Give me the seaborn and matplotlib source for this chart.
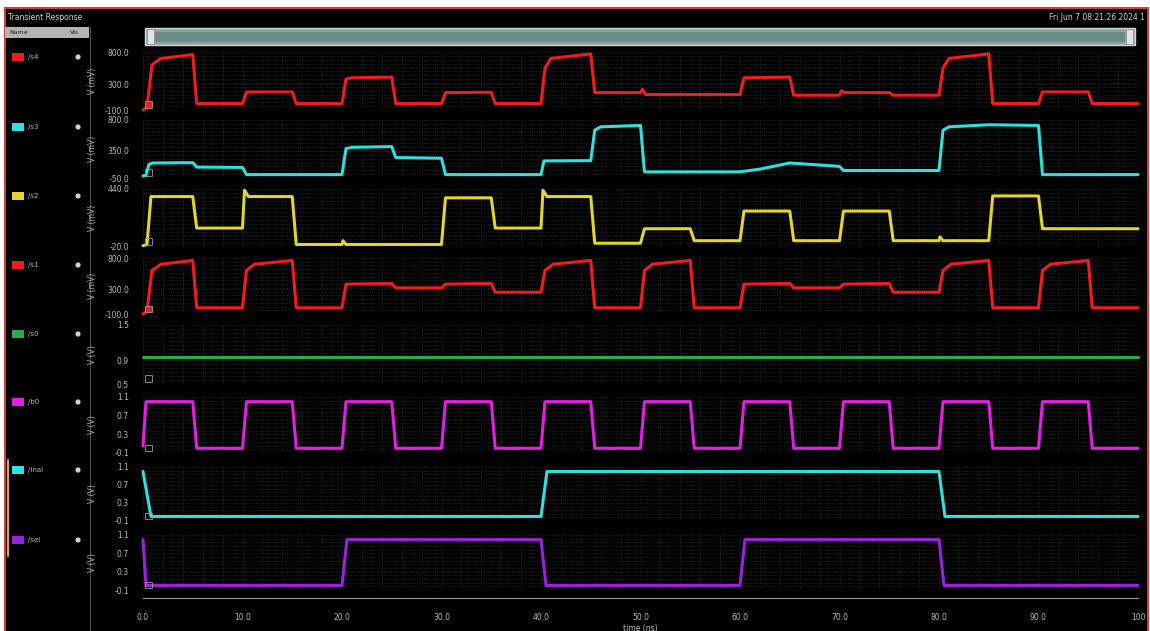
"""Transient response waveform viewer (Virtuoso style), 8 stacked strips."""

import numpy as np
import pandas as pd
import seaborn as sns
import matplotlib.pyplot as plt
from matplotlib.patches import Rectangle, Circle
from matplotlib.ticker import MultipleLocator, FixedLocator

W, H = 1150, 631

# ---- signal data: breakpoints (time in ns, value) ----
s4_t = [0, 0.4, 0.9, 1.8, 5.0, 5.4, 10.0, 10.4, 15.0, 15.4, 20.0, 20.4, 21.0, 25.0, 25.4,
        30.0, 30.4, 35.0, 35.4, 40.0, 40.4, 41.0, 45.0, 45.4, 50.0, 50.2, 50.5, 60.0, 60.4,
        65.0, 65.4, 70.0, 70.2, 70.5, 75.0, 75.4, 80.0, 80.4, 81.0, 85.0, 85.4, 90.0, 90.4,
        95.0, 95.4, 100]
s4_v = [-100, -60, 600, 700, 760, 0, 0, 180, 180, 0, 0, 380, 400, 410, 0,
        0, 170, 175, 0, 0, 550, 700, 770, 170, 170, 220, 140, 140, 400,
        410, 130, 130, 200, 170, 170, 130, 130, 550, 700, 770, 0, 0, 180,
        180, 0, 0]

s3_t = [0, 0.3, 0.6, 1.0, 5.0, 5.4, 10.0, 10.4, 20.0, 20.4, 21.0, 25.0, 25.4, 30.0, 30.4,
        40.0, 40.3, 45.0, 45.4, 46.0, 50.0, 50.4, 60.0, 62.0, 65.0, 67.0, 70.0, 70.4, 80.0,
        80.4, 81.0, 85.0, 90.0, 90.4, 100]
s3_v = [-20, -10, 150, 170, 175, 110, 105, 0, 0, 380, 400, 410, 250, 240, 0,
        0, 200, 205, 650, 700, 720, 40, 40, 80, 170, 150, 120, 60, 60,
        650, 700, 730, 720, 0, 0]

s2_t = [0, 0.4, 0.8, 5.0, 5.4, 10.0, 10.2, 10.6, 15.0, 15.4, 20.0, 20.1, 20.4, 30.0, 30.4,
        35.0, 35.4, 40.0, 40.2, 40.6, 45.0, 45.4, 50.0, 50.4, 55.0, 55.4, 60.0, 60.4, 65.0,
        65.4, 70.0, 70.4, 75.0, 75.4, 80.0, 80.1, 80.4, 85.0, 85.4, 90.0, 90.4, 100]
s2_v = [-10, 0, 380, 380, 130, 130, 430, 380, 380, 0, 0, 30, 0, 0, 370,
        370, 130, 130, 430, 380, 380, 10, 10, 125, 125, 30, 30, 265, 265,
        30, 30, 265, 265, 30, 30, 60, 30, 30, 385, 385, 125, 125]

s1_t = [0, 0.4, 0.9, 1.8, 5.0, 5.4, 10.0, 10.4, 11.2, 15.0, 15.4, 20.0, 20.4, 25.0, 25.4,
        30.0, 30.4, 35.0, 35.4, 40.0, 40.4, 41.2, 45.0, 45.4, 50.0, 50.4, 51.2, 55.0, 55.4,
        60.0, 60.4, 65.0, 65.4, 70.0, 70.4, 75.0, 75.4, 80.0, 80.4, 81.2, 85.0, 85.4, 90.0,
        90.4, 91.2, 95.0, 95.4, 100]
s1_v = [-100, -60, 600, 700, 760, 0, 0, 600, 700, 760, 0, 0, 380, 390, 320,
        320, 380, 390, 250, 250, 600, 700, 760, 0, 0, 600, 700, 760, 0,
        0, 380, 390, 320, 320, 380, 390, 250, 250, 600, 700, 760, 0, 0,
        600, 700, 760, 0, 0]

s0_t = [0, 100]
s0_v = [0.95, 0.95]

b0_t = [0, 0.3, 5.0, 5.4, 10.0, 10.4, 15.0, 15.4, 20.0, 20.4, 25.0, 25.4, 30.0, 30.4,
        35.0, 35.4, 40.0, 40.4, 45.0, 45.4, 50.0, 50.4, 55.0, 55.4, 60.0, 60.4, 65.0, 65.4,
        70.0, 70.4, 75.0, 75.4, 80.0, 80.4, 85.0, 85.4, 90.0, 90.4, 95.0, 95.4, 100]
b0_v = [0.05, 1.0, 1.0, 0.0, 0.0, 1.0, 1.0, 0.0, 0.0, 1.0, 1.0, 0.0, 0.0, 1.0,
        1.0, 0.0, 0.0, 1.0, 1.0, 0.0, 0.0, 1.0, 1.0, 0.0, 0.0, 1.0, 1.0, 0.0,
        0.0, 1.0, 1.0, 0.0, 0.0, 1.0, 1.0, 0.0, 0.0, 1.0, 1.0, 0.0, 0.0]

mal_t = [0, 0.8, 40.0, 40.6, 80.0, 80.6, 100]
mal_v = [1.0, 0.0, 0.0, 1.0, 1.0, 0.0, 0.0]

sel_t = [0, 0.3, 20.0, 20.5, 40.0, 40.5, 60.0, 60.5, 80.0, 80.5, 100]
sel_v = [1.0, 0.0, 0.0, 1.0, 1.0, 0.0, 0.0, 1.0, 1.0, 0.0, 0.0]

names = ["/s4", "/s3", "/s2", "/s1", "/s0", "/b0", "/inal", "/sel"]
series = [(s4_t, s4_v), (s3_t, s3_v), (s2_t, s2_v), (s1_t, s1_v),
          (s0_t, s0_v), (b0_t, b0_v), (mal_t, mal_v), (sel_t, sel_v)]
colors = ["#f21c1c", "#2fe0e0", "#e3d52a", "#f21c1c", "#22b04c", "#e41fe4", "#2fe0e0", "#9a22dc"]
units = ["V (mV)"] * 4 + ["V (V)"] * 4
ylims = [(-100, 800), (-50, 800), (-20, 440), (-100, 800), (0.5, 1.5), (-0.1, 1.1), (-0.1, 1.1), (-0.1, 1.1)]
yticks = [[800, 300, -100], [800, 350, -50], [440, -20], [800, 300, -100],
          [1.5, 0.9, 0.5], [1.1, 0.7, 0.3, -0.1], [1.1, 0.7, 0.3, -0.1], [1.1, 0.7, 0.3, -0.1]]
ytick_labels = [["800.0", "300.0", "-100.0"], ["800.0", "350.0", "-50.0"], ["440.0", "-20.0"],
                ["800.0", "300.0", "-100.0"], ["1.5", "0.9", "0.5"],
                ["1.1", "0.7", "0.3", "-0.1"], ["1.1", "0.7", "0.3", "-0.1"], ["1.1", "0.7", "0.3", "-0.1"]]
xtick_vals = [0, 10, 20, 30, 40, 50, 60, 70, 80, 90, 100]
xtick_labels = ["0.0", "10.0", "20.0", "30.0", "40.0", "50.0", "60.0", "70.0", "80.0", "90.0", "100"]

# strip layout in pixels (top, bottom) and legend row centres
strip_top = [52, 120, 189, 258, 325, 397, 467, 535]
strip_bot = [110, 178, 247, 314, 384, 453, 521, 590]
legend_y = [57, 127, 196, 265, 334, 402, 470, 540]
filled_marker = [True, False, False, True, False, False, False, False]
X0, X1 = 143, 1138
GRID = "#303030"
TXT = "#b8b8b8"


def px(x0, y0, x1, y1):
    return [x0 / W, 1 - y1 / H, (x1 - x0) / W, (y1 - y0) / H]


sns.set_style("dark")
plt.rcParams["font.family"] = ["DejaVu Sans"]

fig = plt.figure(figsize=(W / 100, H / 100), dpi=100, facecolor="white")

# background / chrome in pixel coordinates
bg = fig.add_axes([0, 0, 1, 1])
bg.set_xlim(0, W)
bg.set_ylim(H, 0)
bg.axis("off")
bg.add_patch(Rectangle((5, 8), 1143, 630, facecolor="black", edgecolor="#c8413c", lw=1.5))
bg.text(8, 17, "Transient Response", color="#d0d0d0", fontsize=5.5, va="center")
bg.text(1138, 17, "Fri Jun 7 08:21:26 2024", color="#d0d0d0", fontsize=5.5, va="center", ha="right")
bg.text(1144, 17, "1", color="#d0d0d0", fontsize=5.5, va="center", ha="right")
bg.add_patch(Rectangle((5, 27), 84, 11, facecolor="#b4b4b4", edgecolor="none"))
bg.text(9, 32.5, "Name", color="#202020", fontsize=4.5, va="center")
bg.text(70, 32.5, "Vis", color="#202020", fontsize=4.5, va="center")
bg.plot([90, 90], [27, 631], color="#505050", lw=0.8)
bg.plot([8, 8], [460, 556], color="#e8a838", lw=1.5)
# scrollbar
bg.add_patch(Rectangle((145, 28), 990, 17, facecolor="#8fa3a3", edgecolor="#d8d8d8", lw=1))
bg.add_patch(Rectangle((155, 31.5), 970, 10, facecolor="#6c8c8c", edgecolor="none"))
bg.add_patch(Rectangle((147, 29), 7, 15, facecolor="#e4e4e4", edgecolor="#888888", lw=0.5))
bg.add_patch(Rectangle((1126, 29), 7, 15, facecolor="#e4e4e4", edgecolor="#888888", lw=0.5))

# legend column
for name, c, ly in zip(names, colors, legend_y):
    bg.add_patch(Rectangle((12, ly - 4), 12, 8, facecolor=c, edgecolor="none"))
    bg.text(28, ly, name, color=TXT, fontsize=5, va="center")
    bg.add_patch(Circle((78, ly), 2.6, facecolor="#cfcfcf", edgecolor="none"))

# waveform strips
for i, (t, v) in enumerate(series):
    ax = fig.add_axes(px(X0, strip_top[i], X1, strip_bot[i]))
    ax.set_facecolor("black")
    df = pd.DataFrame({"time": t, "val": v})
    sns.lineplot(data=df, x="time", y="val", ax=ax, color=colors[i], lw=2.2,
                 estimator=None, sort=False)
    ax.lines[-1].set_clip_on(False)
    lo, hi = ylims[i]
    ax.set_xlim(0, 100)
    ax.set_ylim(lo, hi)
    ax.xaxis.set_major_locator(MultipleLocator(10))
    ax.xaxis.set_minor_locator(MultipleLocator(2))
    ax.set_yticks(yticks[i], ytick_labels[i])
    ax.yaxis.set_minor_locator(FixedLocator(np.linspace(lo, hi, 16)))
    ax.grid(True, which="both", color=GRID, ls=":", lw=0.6)
    ax.tick_params(axis="x", which="both", length=0, labelbottom=False)
    ax.tick_params(axis="y", which="major", length=0, pad=10, labelsize=5.5, labelcolor=TXT)
    ax.tick_params(axis="y", which="minor", length=3, width=0.6, color="#7a7a7a", direction="out")
    for s in ax.spines.values():
        s.set_visible(False)
    ax.set_xlabel("")
    ax.set_ylabel(units[i], color=TXT, fontsize=5.5)
    ax.yaxis.set_label_coords(-0.046, 0.5)
    # small marker box at strip origin
    ax.add_patch(Rectangle((0.2, lo + 0.03 * (hi - lo)), 0.7, 0.12 * (hi - lo),
                           facecolor=colors[i] if filled_marker[i] else "none",
                           edgecolor="#9a9a9a", lw=0.6, zorder=5))

# time axis
axx = fig.add_axes(px(X0, 592, X1, 598))
axx.set_facecolor("none")
axx.set_xlim(0, 100)
axx.set_yticks([])
for k in ["left", "right", "top"]:
    axx.spines[k].set_visible(False)
axx.spines["bottom"].set_color("#9a9a9a")
axx.spines["bottom"].set_linewidth(0.8)
axx.set_xticks(xtick_vals, xtick_labels)
axx.xaxis.set_minor_locator(MultipleLocator(2))
axx.tick_params(axis="x", which="major", length=6, width=0.8, color="#9a9a9a", direction="inout",
                labelsize=5.5, labelcolor=TXT, pad=8)
axx.tick_params(axis="x", which="minor", length=3, width=0.6, color="#9a9a9a", direction="inout")
axx.set_xlabel("time (ns)", color=TXT, fontsize=5.5, labelpad=1)

fig.savefig("out.png", dpi=100, facecolor="white")
